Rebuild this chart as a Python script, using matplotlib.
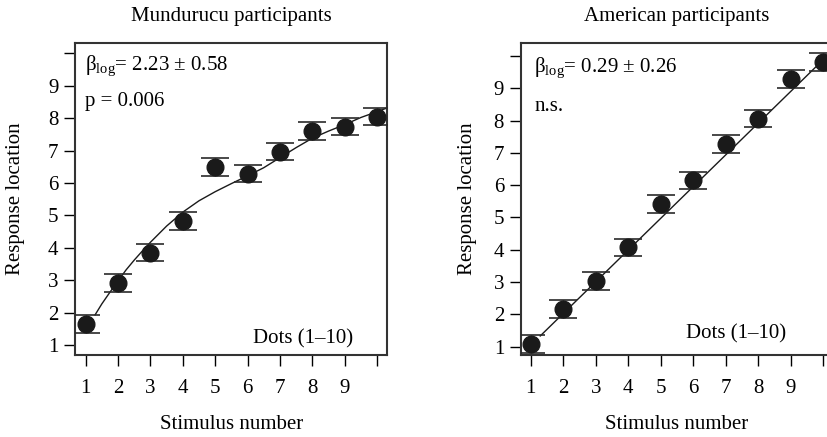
import matplotlib
matplotlib.use('Agg')
import matplotlib.pyplot as plt

plt.rcParams['font.family'] = ['Liberation Serif', 'DejaVu Serif']
plt.rcParams['mathtext.fontset'] = 'custom'
plt.rcParams['mathtext.rm'] = 'Liberation Serif'
plt.rcParams['mathtext.it'] = 'Liberation Serif:italic'
plt.rcParams['font.size'] = 15

# data
stim = [1, 2, 3, 4, 5, 6, 7, 8, 9, 10]
tick_labels = ['1', '2', '3', '4', '5', '6', '7', '8', '9', '']

mund_resp = [1.65, 2.92, 3.85, 4.83, 6.50, 6.29, 6.97, 7.60, 7.74, 8.05]
mund_err = [0.27, 0.27, 0.27, 0.27, 0.27, 0.27, 0.27, 0.27, 0.27, 0.27]
mund_fit_x = [1.29, 1.5, 1.75, 2.0, 2.25, 2.5, 2.75, 3.0, 3.5, 4.0, 4.5, 5.0,
              5.5, 6.0, 6.5, 7.0, 7.5, 8.0, 8.5, 9.0, 9.5, 10.0, 10.3]
mund_fit_y = [1.93, 2.27, 2.63, 2.98, 3.32, 3.62, 3.90, 4.17, 4.67, 5.10, 5.45, 5.73,
              5.98, 6.22, 6.47, 6.78, 7.09, 7.38, 7.60, 7.80, 8.02, 8.20, 8.31]

amer_resp = [1.08, 2.16, 3.03, 4.07, 5.41, 6.15, 7.27, 8.06, 9.29, 9.81]
amer_err = [0.27, 0.27, 0.27, 0.27, 0.27, 0.27, 0.27, 0.27, 0.27, 0.27]
amer_fit_x = [1.29, 10.3]
amer_fit_y = [1.33, 10.18]

fig = plt.figure(figsize=(8.28, 4.37), dpi=100)


def panel(left, resp, err, fx, fy, ylim, xlim, title, txt1, txt2, pos1, pos2, dots_pos, ylab_x):
    ax = fig.add_axes([left, 0.1876, 0.3772, 0.714])
    ax.plot(fx, fy, color='#1a1a1a', lw=1.0, zorder=2)
    ax.errorbar(stim, resp, yerr=err, fmt='o', color='#1a1a1a', ms=12,
                ecolor='#2a2a2a', elinewidth=1.0, capsize=10.4, capthick=1.2, zorder=3)
    ax.set_xlim(*xlim)
    ax.set_ylim(*ylim)
    ax.set_xticks(stim)
    ax.set_xticklabels(tick_labels)
    ax.set_yticks(stim)
    ax.set_yticklabels(tick_labels)
    ax.tick_params(direction='out', length=8, width=1.0, pad=9, labelsize=15)
    ax.tick_params(axis='y', pad=4)
    for s in ax.spines.values():
        s.set_linewidth(1.5)
        s.set_color('#333333')
    ax.text(pos1[0], pos1[1], txt1, transform=ax.transAxes, va='baseline', ha='left')
    ax.text(pos2[0], pos2[1], txt2, transform=ax.transAxes, va='baseline', ha='left')
    ax.text(dots_pos[0], dots_pos[1], 'Dots (1–10)', transform=ax.transAxes,
            va='baseline', ha='right')
    ax.text(0.5, 1.0 + (43 - 20.7) / 312, title, transform=ax.transAxes,
            va='baseline', ha='center')
    ax.text(0.5, -(429 - 355) / 312, 'Stimulus number', transform=ax.transAxes,
            va='baseline', ha='center')
    ax.text(ylab_x, 0.5, 'Response location', transform=ax.transAxes, rotation=90,
            va='center', ha='center')
    return ax


panel(0.0906, mund_resp, mund_err, mund_fit_x, mund_fit_y, (0.69, 10.32), (0.67, 10.32),
      'Mundurucu participants', r'β$_{\mathrm{log}}$= 2.23 ± 0.58', 'p = 0.006',
      (0.032, 0.913), (0.032, 0.798), (0.891, 0.038), -0.19)

panel(0.6289, amer_resp, amer_err, amer_fit_x, amer_fit_y, (0.74, 10.40), (0.69, 10.30),
      'American participants', r'β$_{\mathrm{log}}$= 0.29 ± 0.26', 'n.s.',
      (0.043, 0.908), (0.043, 0.783), (0.849, 0.054), -0.172)

fig.savefig('out.png', dpi=100)
